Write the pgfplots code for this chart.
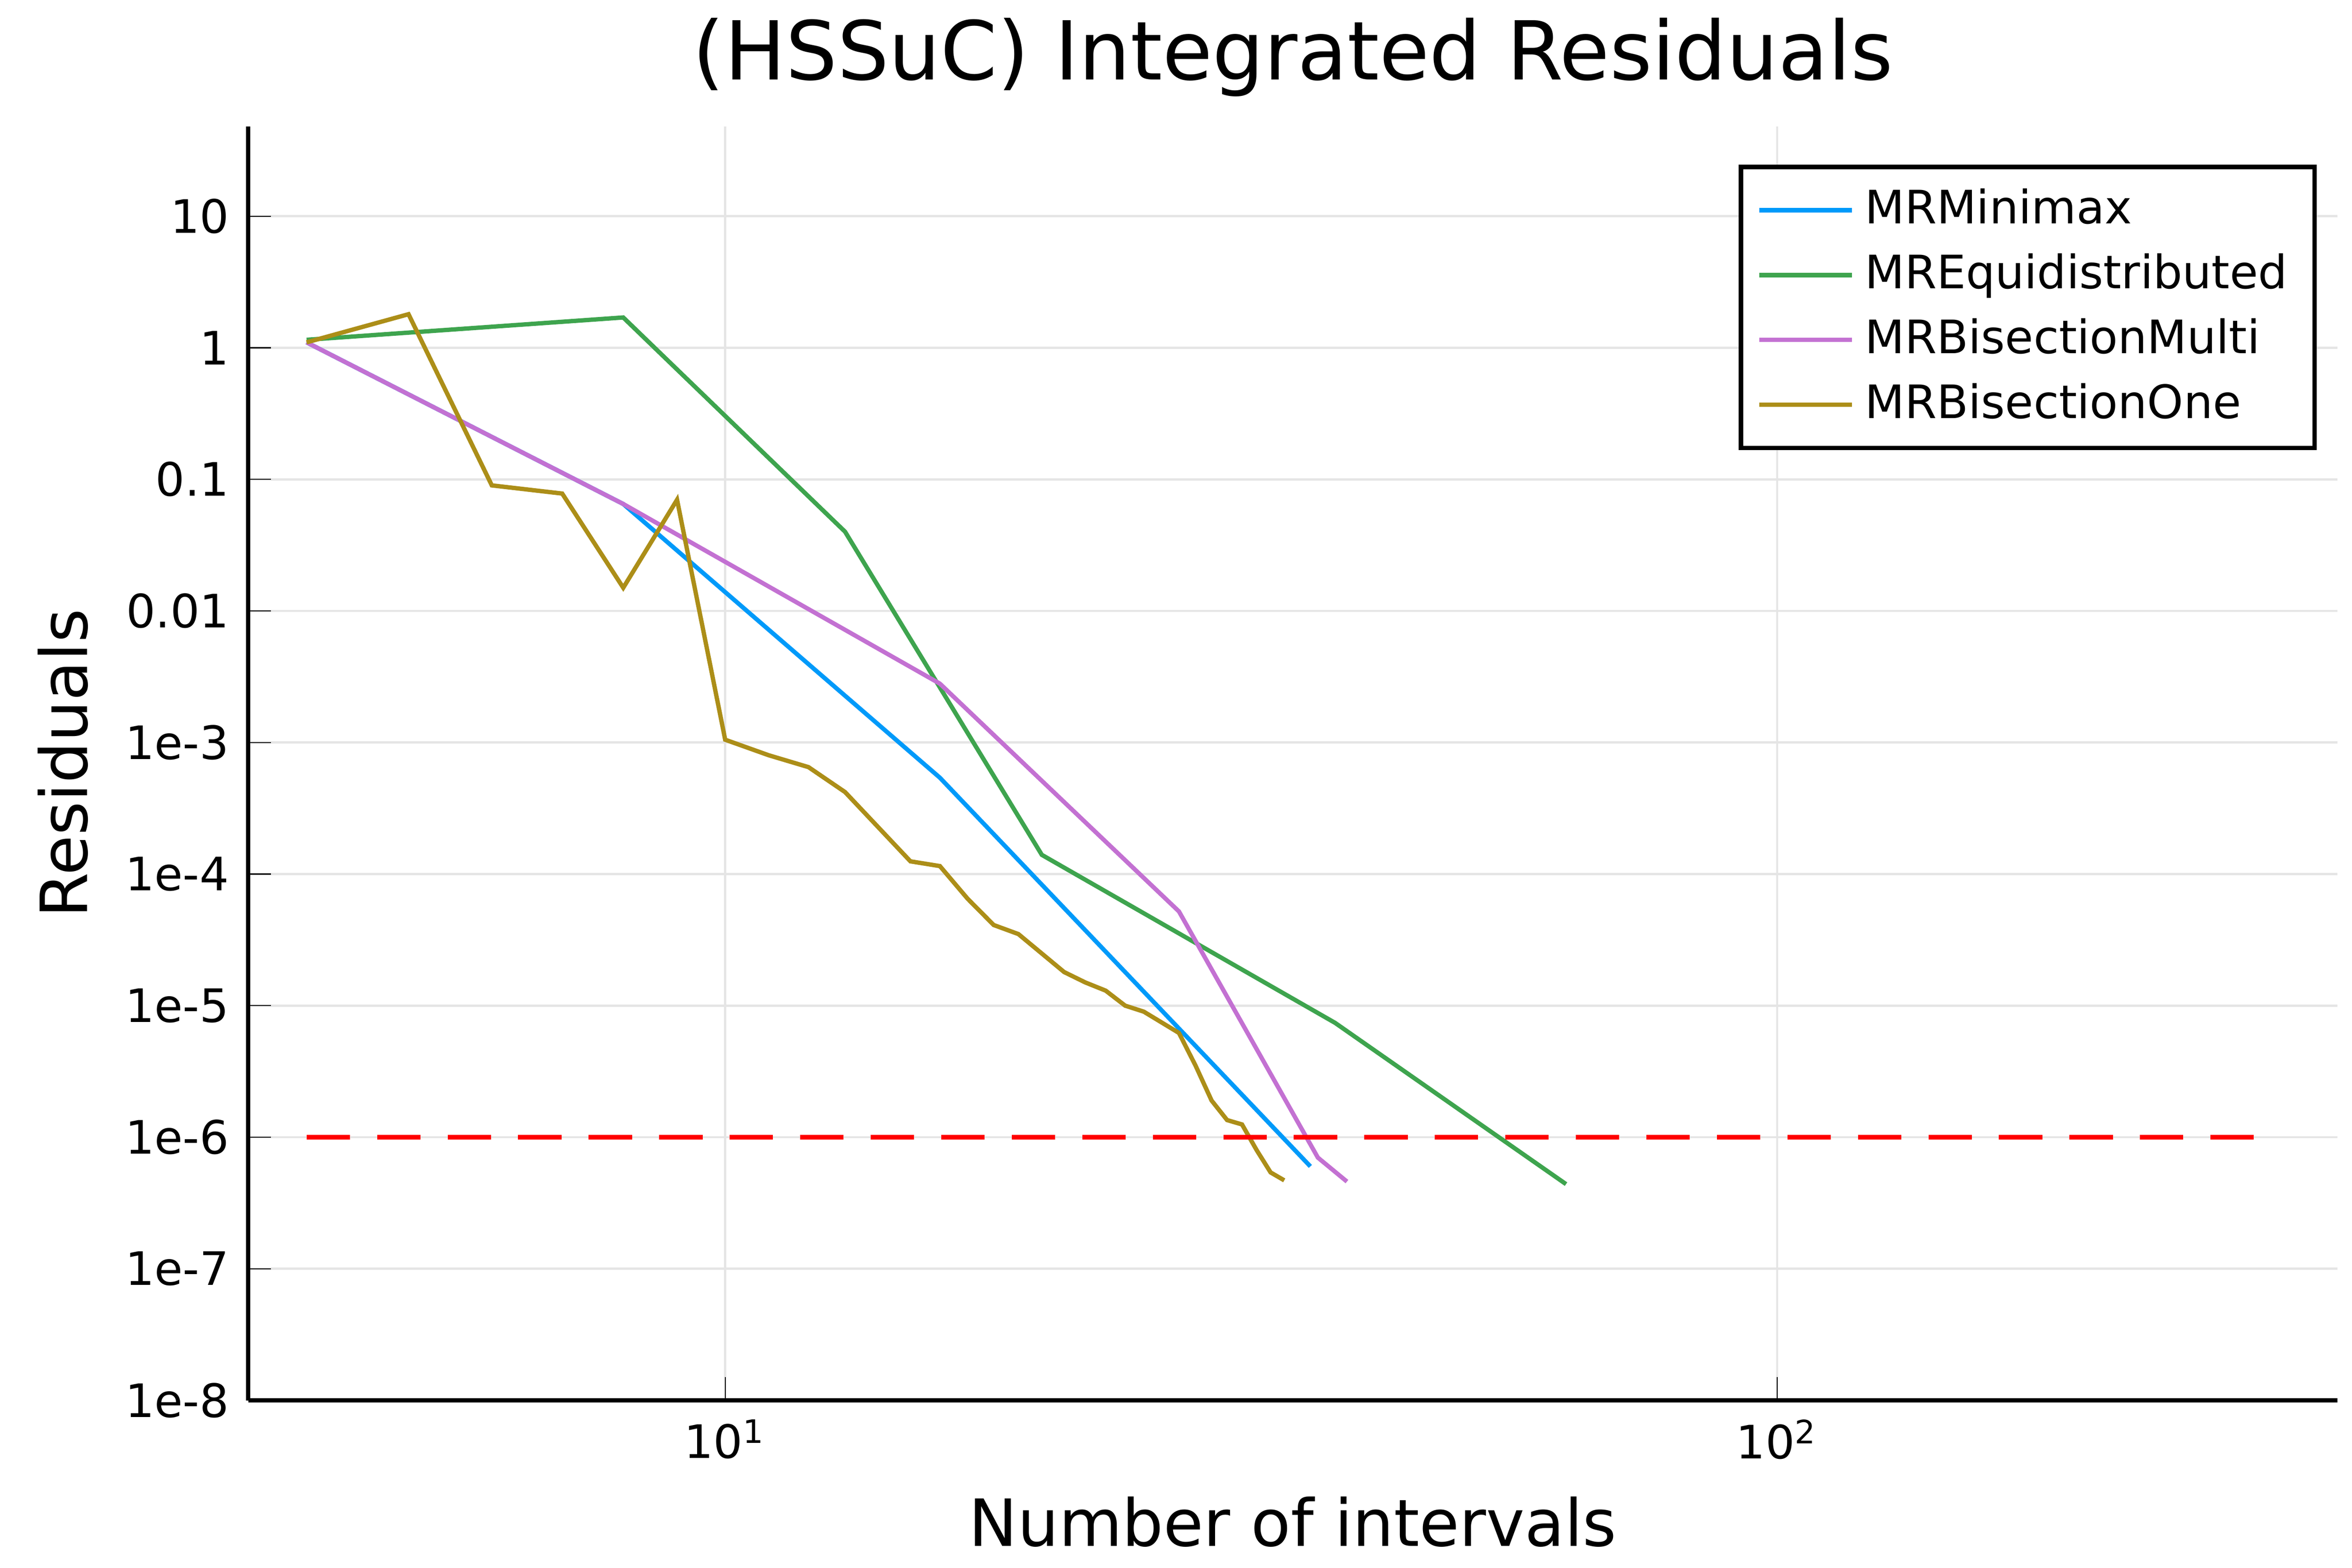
\documentclass[border=0pt]{standalone}
\usepackage{pgfplots}
\pgfplotsset{compat=1.18}
\usepackage{fontspec}
\setmainfont{DejaVu Sans}
\definecolor{c1}{RGB}{0,154,250}
\definecolor{c2}{RGB}{62,164,78}
\definecolor{c3}{RGB}{195,113,210}
\definecolor{c4}{RGB}{172,142,24}
\begin{document}
\begin{tikzpicture}
\useasboundingbox (-0.633in,-0.427in) rectangle (5.367in,3.573in);
\begin{axis}[scale only axis, width=5.33in, height=3.25in,
 xmode=log, ymode=log, xmin=3.52, xmax=341, ymin=1e-8, ymax=48,
 axis x line*=bottom, axis y line*=left, axis line style={thick},
 xtick={10,100}, xticklabels={10\textsuperscript{1},10\textsuperscript{2}},
 ytick={1e-8,1e-7,1e-6,1e-5,1e-4,1e-3,0.01,0.1,1,10},
 yticklabels={1e-8,1e-7,1e-6,1e-5,1e-4,1e-3,0.01,0.1,1,10},
 minor tick style={draw=none}, minor grid style={draw=none},
 grid=major, grid style={gray!20}, tick style={black},
 tick label style={font=\fontsize{8.5}{10}\selectfont},
 title={(HSSuC) Integrated Residuals}, title style={font=\fontsize{15}{18}\selectfont, yshift=-4pt},
 xlabel={Number of intervals}, ylabel={Residuals},
 label style={font=\fontsize{12}{14}\selectfont},
 legend style={at={(0.99,0.97)}, anchor=north east, draw=black, thick, font=\fontsize{8.5}{10}\selectfont, cells={anchor=west}},
 legend cell align=left, every axis plot/.append style={thick}]
\addplot[c1] coordinates {(4,1.1)(8,0.065)(16,5.4e-4)(36,6e-7)};
\addlegendentry{MRMinimax}
\addplot[c2] coordinates {(4,1.15)(8,1.7)(13,0.04)(20,1.4e-4)(38,7.4e-6)(63,4.4e-7)};
\addlegendentry{MREquidistributed}
\addplot[c3] coordinates {(4,1.1)(8,0.065)(16,2.8e-3)(27,5.2e-5)(36.6,7e-7)(39,4.6e-7)};
\addlegendentry{MRBisectionMulti}
\addplot[c4] coordinates {(4,1.1)(5,1.8)(6,0.09)(7,0.078)(8,0.015)(9,0.07)(10,1.05e-3)(11,8e-4)(12,6.5e-4)(13,4.2e-4)(15,1.25e-4)(16,1.15e-4)(17,6.5e-5)(18,4.1e-5)(19,3.5e-5)(21,1.8e-5)(22,1.5e-5)(23,1.3e-5)(24,1.0e-5)(25,9e-6)(27,6.2e-6)(28,3.5e-6)(29,1.9e-6)(30,1.35e-6)(31,1.25e-6)(32,8e-7)(33,5.4e-7)(34,4.7e-7)};
\addlegendentry{MRBisectionOne}
\addplot[red, dashed, dash pattern=on 8pt off 5pt, forget plot] coordinates {(4,1e-6)(296,1e-6)};
\end{axis}
\end{tikzpicture}
\end{document}
